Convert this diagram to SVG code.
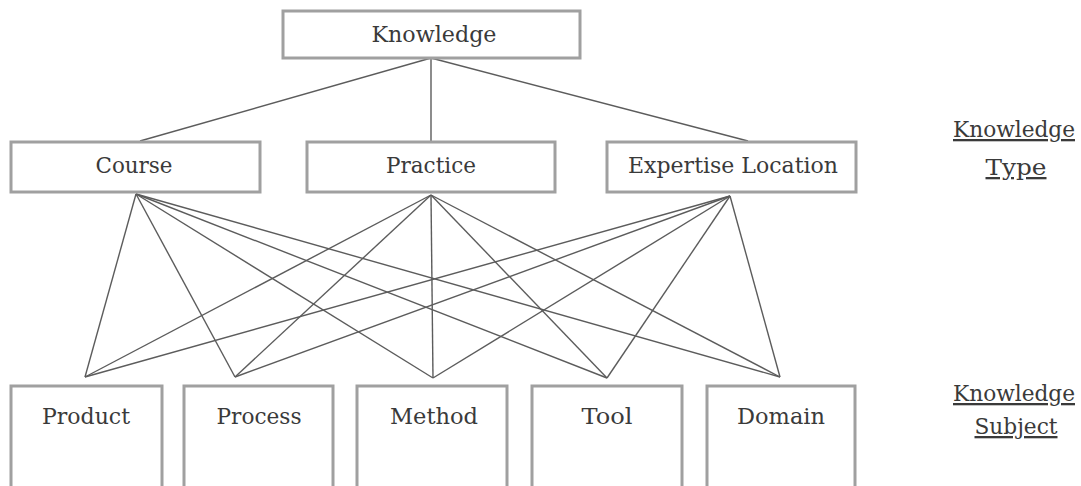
<svg xmlns="http://www.w3.org/2000/svg" width="1081" height="486" viewBox="0 0 1081 486">
  <style>
    .box { fill: #ffffff; stroke: #a0a0a0; stroke-width: 3; }
    .lbl { font-family: 'DejaVu Serif', 'Liberation Serif', serif; font-size: 23px; fill: #3a3a3a; text-anchor: middle; }
    .side { text-decoration: underline; }
    .conn line { stroke: #5c5c5c; stroke-width: 1.4; }
  </style>

  <!-- connectors -->
  <g id="connectors" class="conn">
    <!-- root to knowledge types -->
    <line x1="431" y1="58" x2="140" y2="141"/>
    <line x1="431" y1="58" x2="431" y2="141"/>
    <line x1="431" y1="58" x2="748" y2="141"/>
    <!-- Course to subjects -->
    <line x1="136" y1="194" x2="85" y2="377"/>
    <line x1="136" y1="194" x2="235" y2="377"/>
    <line x1="136" y1="194" x2="433" y2="378"/>
    <line x1="136" y1="194" x2="607" y2="378"/>
    <line x1="136" y1="194" x2="780" y2="377"/>
    <!-- Practice to subjects -->
    <line x1="431" y1="195" x2="85" y2="377"/>
    <line x1="431" y1="195" x2="235" y2="377"/>
    <line x1="431" y1="195" x2="433" y2="378"/>
    <line x1="431" y1="195" x2="607" y2="378"/>
    <line x1="431" y1="195" x2="780" y2="377"/>
    <!-- Expertise Location to subjects -->
    <line x1="730" y1="196" x2="85" y2="377"/>
    <line x1="730" y1="196" x2="235" y2="377"/>
    <line x1="730" y1="196" x2="433" y2="378"/>
    <line x1="730" y1="196" x2="607" y2="378"/>
    <line x1="730" y1="196" x2="780" y2="377"/>
  </g>

  <!-- root -->
  <g id="knowledge">
    <rect class="box" x="283" y="11" width="297" height="47"/>
    <text class="lbl" x="434" y="42" textLength="125" lengthAdjust="spacingAndGlyphs">Knowledge</text>
  </g>

  <!-- knowledge types -->
  <g id="course">
    <rect class="box" x="11" y="142" width="249" height="50"/>
    <text class="lbl" x="134" y="173" textLength="77" lengthAdjust="spacingAndGlyphs">Course</text>
  </g>
  <g id="practice">
    <rect class="box" x="307" y="142" width="248" height="50"/>
    <text class="lbl" x="431" y="173" textLength="90" lengthAdjust="spacingAndGlyphs">Practice</text>
  </g>
  <g id="expertise-location">
    <rect class="box" x="607" y="142" width="249" height="50"/>
    <text class="lbl" x="733" y="173" textLength="210" lengthAdjust="spacingAndGlyphs">Expertise Location</text>
  </g>

  <!-- knowledge subjects -->
  <g id="product">
    <rect class="box" x="11" y="386" width="151" height="110"/>
    <text class="lbl" x="86" y="424" textLength="88" lengthAdjust="spacingAndGlyphs">Product</text>
  </g>
  <g id="process">
    <rect class="box" x="184" y="386" width="149" height="110"/>
    <text class="lbl" x="259" y="424" textLength="85" lengthAdjust="spacingAndGlyphs">Process</text>
  </g>
  <g id="method">
    <rect class="box" x="357" y="386" width="150" height="110"/>
    <text class="lbl" x="434" y="424" textLength="88" lengthAdjust="spacingAndGlyphs">Method</text>
  </g>
  <g id="tool">
    <rect class="box" x="532" y="386" width="150" height="110"/>
    <text class="lbl" x="607" y="424" textLength="51" lengthAdjust="spacingAndGlyphs">Tool</text>
  </g>
  <g id="domain">
    <rect class="box" x="707" y="386" width="148" height="110"/>
    <text class="lbl" x="781" y="424" textLength="88" lengthAdjust="spacingAndGlyphs">Domain</text>
  </g>

  <!-- level captions -->
  <g id="caption-type">
    <text class="lbl side" x="1014" y="137" textLength="122" lengthAdjust="spacingAndGlyphs">Knowledge</text>
    <text class="lbl side" x="1016" y="175" textLength="61" lengthAdjust="spacingAndGlyphs">Type</text>
  </g>
  <g id="caption-subject">
    <text class="lbl side" x="1014" y="401" textLength="122" lengthAdjust="spacingAndGlyphs">Knowledge</text>
    <text class="lbl side" x="1016" y="434" textLength="83" lengthAdjust="spacingAndGlyphs">Subject</text>
  </g>
</svg>
